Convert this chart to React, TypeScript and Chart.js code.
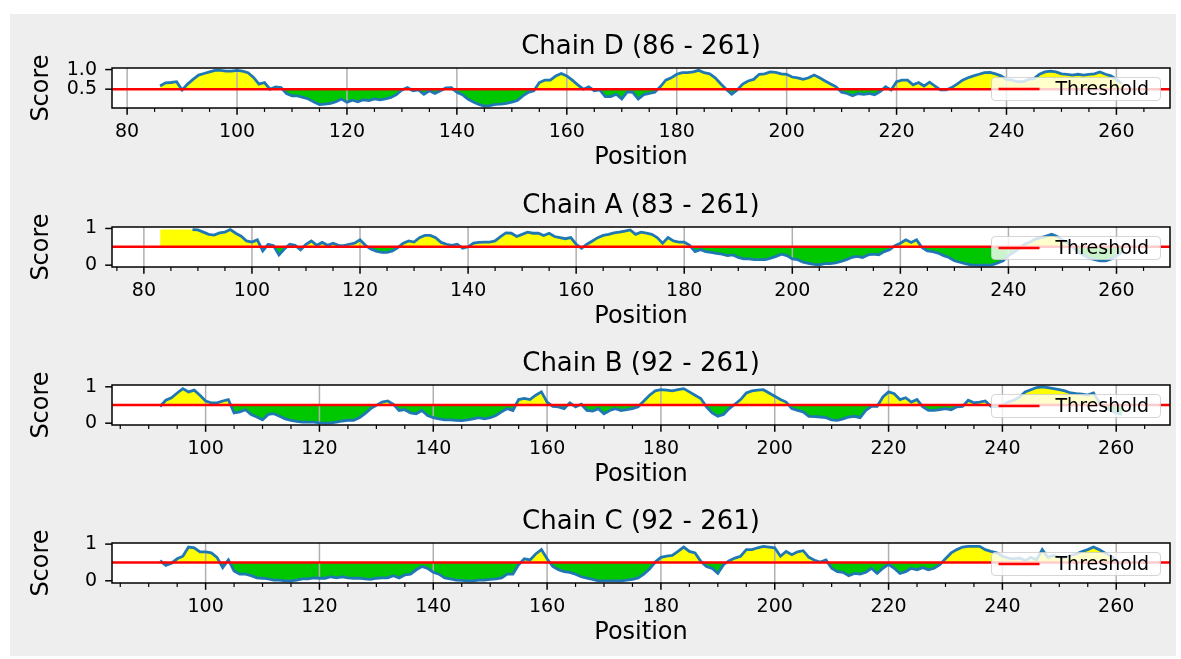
import React, { useEffect, useRef } from "react";
import { Chart, registerables } from "chart.js";

Chart.register(...registerables);

// ---------------- data ----------------
const THRESHOLD = 0.5;
const THRESHOLD_LABEL = "Threshold";

const chainDStart = 86;
const chainDScores = [
  0.58, 0.66, 0.67, 0.69, 0.48, 0.63, 0.75, 0.86, 0.9, 0.94, // 86-95
  0.98, 0.98, 0.96, 0.96, 0.98, 0.96, 0.92, 0.8, 0.63, 0.67, // 96-105
  0.5, 0.56, 0.54, 0.39, 0.33, 0.33, 0.29, 0.25, 0.17, 0.11, // 106-115
  0.12, 0.14, 0.18, 0.25, 0.17, 0.22, 0.18, 0.23, 0.21, 0.25, // 116-125
  0.23, 0.25, 0.29, 0.36, 0.48, 0.54, 0.46, 0.48, 0.37, 0.46, // 126-135
  0.39, 0.46, 0.53, 0.54, 0.42, 0.36, 0.25, 0.17, 0.11, 0.07, // 136-145
  0.08, 0.11, 0.12, 0.14, 0.17, 0.21, 0.33, 0.42, 0.46, 0.67, // 146-155
  0.73, 0.73, 0.84, 0.9, 0.84, 0.73, 0.61, 0.5, 0.56, 0.46, // 156-165
  0.48, 0.31, 0.31, 0.37, 0.25, 0.43, 0.42, 0.25, 0.36, 0.39, // 166-175
  0.42, 0.56, 0.73, 0.79, 0.88, 0.92, 0.92, 0.94, 0.98, 0.92, // 176-185
  0.89, 0.79, 0.64, 0.5, 0.37, 0.48, 0.63, 0.71, 0.75, 0.88, // 186-195
  0.89, 0.94, 0.93, 0.89, 0.88, 0.81, 0.79, 0.75, 0.79, 0.86, // 196-205
  0.79, 0.71, 0.63, 0.56, 0.42, 0.39, 0.33, 0.39, 0.37, 0.39, // 206-215
  0.36, 0.44, 0.56, 0.48, 0.69, 0.73, 0.73, 0.61, 0.67, 0.58, // 216-225
  0.68, 0.58, 0.48, 0.48, 0.54, 0.63, 0.73, 0.79, 0.84, 0.88, // 226-235
  0.92, 0.93, 0.89, 0.84, 0.75, 0.73, 0.69, 0.69, 0.75, 0.77, // 236-245
  0.88, 0.94, 0.96, 0.94, 0.89, 0.88, 0.86, 0.88, 0.86, 0.88, // 246-255
  0.89, 0.94, 0.88, 0.84, 0.75, 0.64, // 256-261
];

const chainAStart = 83;
const chainAScores = [
  0.97, 0.97, 0.97, 0.97, 0.97, 0.97, 0.97, 0.96, 0.9, 0.84, // 83-92
  0.82, 0.88, 0.9, 0.97, 0.87, 0.79, 0.66, 0.63, 0.69, 0.39, // 93-102
  0.57, 0.53, 0.28, 0.44, 0.57, 0.54, 0.42, 0.57, 0.66, 0.54, // 103-112
  0.62, 0.54, 0.6, 0.54, 0.53, 0.57, 0.6, 0.69, 0.54, 0.44, // 113-122
  0.38, 0.35, 0.35, 0.39, 0.48, 0.6, 0.66, 0.63, 0.75, 0.81, // 123-132
  0.81, 0.75, 0.62, 0.57, 0.54, 0.57, 0.46, 0.5, 0.6, 0.62, // 133-142
  0.63, 0.63, 0.66, 0.78, 0.88, 0.87, 0.78, 0.84, 0.9, 0.87, // 143-152
  0.87, 0.81, 0.87, 0.78, 0.75, 0.72, 0.75, 0.57, 0.46, 0.57, // 153-162
  0.66, 0.75, 0.81, 0.84, 0.88, 0.9, 0.93, 0.96, 0.84, 0.9, // 163-172
  0.87, 0.84, 0.75, 0.6, 0.75, 0.66, 0.63, 0.63, 0.54, 0.37, // 173-182
  0.42, 0.37, 0.35, 0.32, 0.3, 0.26, 0.28, 0.21, 0.17, 0.17, // 183-192
  0.15, 0.15, 0.15, 0.19, 0.24, 0.3, 0.26, 0.17, 0.15, 0.08, // 193-202
  0.05, 0.02, 0.01, 0.04, 0.04, 0.06, 0.1, 0.15, 0.21, 0.24, // 203-212
  0.21, 0.28, 0.3, 0.28, 0.37, 0.42, 0.53, 0.6, 0.69, 0.62, // 213-222
  0.69, 0.48, 0.39, 0.37, 0.33, 0.26, 0.21, 0.12, 0.08, 0.04, // 223-232
  0.01, 0.0, 0.0, 0.0, 0.01, 0.06, 0.12, 0.26, 0.35, 0.46, // 233-242
  0.57, 0.63, 0.71, 0.75, 0.79, 0.84, 0.78, 0.69, 0.6, 0.48, // 243-252
  0.35, 0.26, 0.19, 0.15, 0.12, 0.12, 0.17, 0.26, 0.35, // 253-261
];
// the first few chain A points are shaded but carry no drawn line
const chainAUndrawnLead = 6;

const chainBStart = 92;
const chainBScores = [
  0.46, 0.63, 0.7, 0.83, 0.95, 0.86, 0.91, 0.77, 0.61, 0.56, // 92-101
  0.56, 0.61, 0.65, 0.28, 0.31, 0.37, 0.24, 0.17, 0.09, 0.24, // 102-111
  0.26, 0.19, 0.12, 0.08, 0.05, 0.03, 0.03, 0.03, 0.01, 0.0, // 112-121
  0.01, 0.03, 0.06, 0.08, 0.08, 0.15, 0.26, 0.4, 0.49, 0.58, // 122-131
  0.61, 0.52, 0.35, 0.37, 0.28, 0.26, 0.35, 0.21, 0.15, 0.12, // 132-141
  0.09, 0.09, 0.08, 0.07, 0.09, 0.12, 0.15, 0.12, 0.15, 0.21, // 142-151
  0.31, 0.4, 0.35, 0.65, 0.68, 0.65, 0.77, 0.86, 0.58, 0.46, // 152-161
  0.45, 0.4, 0.56, 0.45, 0.52, 0.35, 0.33, 0.4, 0.26, 0.35, // 162-171
  0.4, 0.35, 0.37, 0.4, 0.45, 0.61, 0.77, 0.89, 0.92, 0.91, // 172-181
  0.89, 0.92, 0.95, 0.86, 0.77, 0.68, 0.45, 0.28, 0.19, 0.24, // 182-191
  0.4, 0.52, 0.65, 0.83, 0.89, 0.91, 0.92, 0.83, 0.74, 0.65, // 192-201
  0.58, 0.4, 0.35, 0.31, 0.19, 0.18, 0.17, 0.15, 0.09, 0.08, // 202-211
  0.12, 0.17, 0.19, 0.15, 0.35, 0.46, 0.46, 0.72, 0.86, 0.81, // 212-221
  0.65, 0.7, 0.58, 0.65, 0.45, 0.35, 0.35, 0.37, 0.4, 0.37, // 222-231
  0.45, 0.46, 0.63, 0.56, 0.58, 0.61, 0.46, 0.46, 0.49, 0.58, // 232-241
  0.63, 0.72, 0.86, 0.92, 0.98, 1.0, 0.98, 0.95, 0.92, 0.89, // 242-251
  0.83, 0.81, 0.8, 0.77, 0.83, 0.58, 0.45, 0.35, 0.28, 0.24, // 252-261
];

const chainCStart = 92;
const chainCScores = [
  0.55, 0.42, 0.48, 0.6, 0.67, 0.92, 0.9, 0.79, 0.79, 0.76, // 92-101
  0.64, 0.36, 0.57, 0.27, 0.18, 0.18, 0.14, 0.08, 0.07, 0.05, // 102-111
  0.02, 0.02, 0.0, 0.0, 0.02, 0.05, 0.05, 0.08, 0.07, 0.07, // 112-121
  0.11, 0.08, 0.11, 0.08, 0.07, 0.07, 0.05, 0.04, 0.07, 0.08, // 122-131
  0.08, 0.14, 0.08, 0.16, 0.18, 0.3, 0.39, 0.34, 0.23, 0.18, // 132-141
  0.08, 0.05, 0.02, 0.01, 0.0, 0.0, 0.02, 0.02, 0.04, 0.05, // 142-151
  0.08, 0.18, 0.18, 0.44, 0.6, 0.57, 0.73, 0.85, 0.6, 0.39, // 152-161
  0.3, 0.25, 0.23, 0.18, 0.11, 0.07, 0.04, 0.0, 0.0, 0.0, // 162-171
  0.0, 0.0, 0.02, 0.04, 0.08, 0.18, 0.32, 0.51, 0.64, 0.67, // 172-181
  0.69, 0.8, 0.92, 0.8, 0.76, 0.53, 0.39, 0.34, 0.2, 0.44, // 182-191
  0.55, 0.62, 0.67, 0.85, 0.85, 0.9, 0.94, 0.92, 0.9, 0.67, // 192-201
  0.8, 0.71, 0.79, 0.82, 0.64, 0.56, 0.51, 0.57, 0.34, 0.25, // 202-211
  0.23, 0.14, 0.2, 0.18, 0.23, 0.34, 0.2, 0.34, 0.45, 0.34, // 212-221
  0.2, 0.25, 0.34, 0.3, 0.36, 0.3, 0.34, 0.44, 0.6, 0.76, // 222-231
  0.85, 0.92, 0.94, 0.94, 0.94, 0.85, 0.8, 0.76, 0.67, 0.62, // 232-241
  0.6, 0.62, 0.55, 0.64, 0.57, 0.85, 0.64, 0.69, 0.64, 0.64, // 242-251
  0.69, 0.73, 0.8, 0.85, 0.92, 0.85, 0.76, 0.69, 0.55, 0.45, // 252-261
];

const yTicksD = [0.5, 1.0];
const yTickLabelsD = ["0.5", "1.0"];
const yTicksABC = [0, 1];
const yTickLabelsABC = ["0", "1"];
const X_MAJOR_STEP = 20;
const X_MINOR_STEP = 5;

// ---------------- style / layout ----------------
const FONT = "'DejaVu Sans', sans-serif";
const PAGE_W = 1181;
const AXES_LEFT = 112;
const AXES_RIGHT = 1170;
const AXES_H = 40;
const TITLE_BLOCK = 44;
const X_BLOCK = 72;
const TITLE_SIZE = 26;
const LABEL_SIZE = 24;
const TICK_SIZE = 19;
const LINE_BLUE = "#1f77b4";
const RED = "#ff0000";
const ABOVE_FILL = "#ffff00";
const BELOW_FILL = "#00c800";

type PanelCfg = {
  chain: string;
  start: number;
  scores: number[];
  yMin: number;
  yMax: number;
  yTicks: number[];
  yLabels: string[];
  axesTop: number;
  undrawnLead: number;
};

const panels: PanelCfg[] = [
  { chain: "D", start: chainDStart, scores: chainDScores, yMin: 0.02, yMax: 1.04, yTicks: yTicksD, yLabels: yTickLabelsD, axesTop: 68, undrawnLead: 0 },
  { chain: "A", start: chainAStart, scores: chainAScores, yMin: -0.05, yMax: 1.04, yTicks: yTicksABC, yLabels: yTickLabelsABC, axesTop: 226.5, undrawnLead: chainAUndrawnLead },
  { chain: "B", start: chainBStart, scores: chainBScores, yMin: -0.05, yMax: 1.05, yTicks: yTicksABC, yLabels: yTickLabelsABC, axesTop: 385, undrawnLead: 0 },
  { chain: "C", start: chainCStart, scores: chainCScores, yMin: -0.06, yMax: 1.03, yTicks: yTicksABC, yLabels: yTickLabelsABC, axesTop: 542.5, undrawnLead: 0 },
];

function roundRectPath(ctx: CanvasRenderingContext2D, x: number, y: number, w: number, h: number, r: number) {
  ctx.beginPath();
  ctx.moveTo(x + r, y);
  ctx.lineTo(x + w - r, y);
  ctx.arcTo(x + w, y, x + w, y + r, r);
  ctx.lineTo(x + w, y + h - r);
  ctx.arcTo(x + w, y + h, x + w - r, y + h, r);
  ctx.lineTo(x + r, y + h);
  ctx.arcTo(x, y + h, x, y + h - r, r);
  ctx.lineTo(x, y + r);
  ctx.arcTo(x, y, x + r, y, r);
  ctx.closePath();
}

function decorPlugin(cfg: PanelCfg) {
  return {
    id: "panelDecor",
    beforeDraw(chart: any) {
      const { ctx, chartArea: a } = chart;
      ctx.save();
      ctx.fillStyle = "#ffffff";
      ctx.fillRect(a.left, a.top, a.right - a.left, a.bottom - a.top);
      ctx.restore();
    },
    beforeDatasetDraw(chart: any, args: any) {
      if (args.index !== 1) return;
      const { ctx, chartArea: a } = chart;
      const xs = chart.scales.x;
      ctx.save();
      ctx.strokeStyle = "#b0b0b0";
      ctx.lineWidth = 1.5;
      for (const t of xs.ticks) {
        if (t.value % X_MAJOR_STEP !== 0) continue;
        const px = xs.getPixelForValue(t.value);
        ctx.beginPath();
        ctx.moveTo(px, a.top);
        ctx.lineTo(px, a.bottom);
        ctx.stroke();
      }
      ctx.restore();
    },
    afterDatasetsDraw(chart: any) {
      const { ctx, chartArea: a } = chart;
      const xs = chart.scales.x;
      const ys = chart.scales.y;
      ctx.save();
      ctx.strokeStyle = "#000000";
      for (const t of xs.ticks) {
        const major = t.value % X_MAJOR_STEP === 0;
        const px = xs.getPixelForValue(t.value);
        ctx.lineWidth = major ? 1.5 : 1.2;
        ctx.beginPath();
        ctx.moveTo(px, a.bottom);
        ctx.lineTo(px, a.bottom + (major ? 6.8 : 3.9));
        ctx.stroke();
      }
      for (const v of cfg.yTicks) {
        const py = ys.getPixelForValue(v);
        ctx.lineWidth = 1.5;
        ctx.beginPath();
        ctx.moveTo(a.left, py);
        ctx.lineTo(a.left - 6.8, py);
        ctx.stroke();
      }
      ctx.lineWidth = 1.5;
      ctx.strokeRect(a.left, a.top, a.right - a.left, a.bottom - a.top);
      ctx.restore();
    },
    afterDraw(chart: any) {
      const { ctx, chartArea: a } = chart;
      const w = 169;
      const h = 23;
      const x = a.right - 9.5 - w;
      const y = a.bottom - 7.5 - h;
      ctx.save();
      roundRectPath(ctx, x, y, w, h, 3.5);
      ctx.fillStyle = "rgba(255,255,255,0.8)";
      ctx.fill();
      ctx.strokeStyle = "rgba(204,204,204,0.8)";
      ctx.lineWidth = 1;
      ctx.stroke();
      ctx.strokeStyle = RED;
      ctx.lineWidth = 2.5;
      ctx.beginPath();
      ctx.moveTo(x + 7, y + h / 2);
      ctx.lineTo(x + 48, y + h / 2);
      ctx.stroke();
      ctx.fillStyle = "#000000";
      ctx.font = `${TICK_SIZE}px ${FONT}`;
      ctx.textBaseline = "middle";
      ctx.textAlign = "left";
      ctx.fillText(chart.data.datasets[0].label, x + 64, y + h / 2 + 1);
      ctx.restore();
    },
  };
}

function buildConfig(cfg: PanelCfg): any {
  const end = cfg.start + cfg.scores.length - 1;
  const span = end - cfg.start;
  const xMin = cfg.start - 0.05 * span;
  const xMax = end + 0.05 * span;
  const points = cfg.scores.map((s, i) => ({ x: cfg.start + i, y: s }));
  const lead = cfg.undrawnLead;

  return {
    type: "line",
    data: {
      datasets: [
        {
          label: THRESHOLD_LABEL,
          data: [
            { x: xMin, y: THRESHOLD },
            { x: xMax, y: THRESHOLD },
          ],
          borderColor: RED,
          borderWidth: 2.5,
          pointRadius: 0,
          fill: false,
          order: 0,
        },
        {
          label: "Score",
          data: points,
          borderColor: LINE_BLUE,
          borderWidth: 2.8,
          pointRadius: 0,
          fill: false,
          tension: 0,
          order: 1,
          segment: {
            borderColor: (ctx: any) => (ctx.p0DataIndex < lead ? "rgba(0,0,0,0)" : undefined),
          },
        },
        {
          label: "fill",
          data: points,
          borderColor: "rgba(0,0,0,0)",
          borderWidth: 0,
          pointRadius: 0,
          tension: 0,
          order: 2,
          fill: { target: { value: THRESHOLD }, above: ABOVE_FILL, below: BELOW_FILL },
        },
      ],
    },
    options: {
      animation: false,
      responsive: false,
      devicePixelRatio: 1,
      layout: { padding: { left: 0, right: PAGE_W - AXES_RIGHT, top: 0, bottom: 0 } },
      plugins: {
        legend: { display: false },
        tooltip: { enabled: false },
        title: {
          display: true,
          fullSize: false,
          text: `Chain ${cfg.chain} (${cfg.start} - ${end})`,
          color: "#000000",
          font: { family: FONT, size: TITLE_SIZE, weight: "normal" },
          padding: { top: 7.4, bottom: 5.4 },
        },
      },
      scales: {
        x: {
          type: "linear",
          min: xMin,
          max: xMax,
          afterBuildTicks: (scale: any) => {
            const ticks = [];
            for (let v = Math.ceil(xMin / X_MINOR_STEP) * X_MINOR_STEP; v <= xMax; v += X_MINOR_STEP) ticks.push({ value: v });
            scale.ticks = ticks;
          },
          afterFit: (scale: any) => {
            scale.height = X_BLOCK;
          },
          ticks: {
            autoSkip: false,
            maxRotation: 0,
            minRotation: 0,
            padding: 6,
            color: "#000000",
            font: { family: FONT, size: TICK_SIZE },
            callback: (v: any) => (Number(v) % X_MAJOR_STEP === 0 ? String(v) : ""),
          },
          grid: { drawOnChartArea: false, drawTicks: true, tickLength: 7, tickColor: "rgba(0,0,0,0)", color: "rgba(0,0,0,0)" },
          border: { display: false },
          title: {
            display: true,
            text: "Position",
            color: "#000000",
            font: { family: FONT, size: LABEL_SIZE },
            padding: { top: 0, bottom: 7.6 },
          },
        },
        y: {
          type: "linear",
          min: cfg.yMin,
          max: cfg.yMax,
          afterBuildTicks: (scale: any) => {
            scale.ticks = cfg.yTicks.map((v) => ({ value: v }));
          },
          afterFit: (scale: any) => {
            scale.width = AXES_LEFT;
          },
          ticks: {
            padding: 8,
            color: "#000000",
            font: { family: FONT, size: TICK_SIZE },
            callback: (_v: any, i: number) => cfg.yLabels[i],
          },
          grid: { drawOnChartArea: false, drawTicks: true, tickLength: 7, tickColor: "rgba(0,0,0,0)", color: "rgba(0,0,0,0)" },
          border: { display: false },
          title: {
            display: true,
            text: "Score",
            color: "#000000",
            font: { family: FONT, size: LABEL_SIZE },
            padding: { top: 27.6, bottom: 0 },
          },
        },
      },
    },
    plugins: [decorPlugin(cfg)],
  };
}

function Panel({ cfg }: { cfg: PanelCfg }) {
  const ref = useRef<HTMLCanvasElement>(null);
  const height = TITLE_BLOCK + AXES_H + X_BLOCK;
  useEffect(() => {
    if (!ref.current) return;
    const chart = new Chart(ref.current, buildConfig(cfg));
    return () => chart.destroy();
  }, [cfg]);
  return (
    <canvas
      ref={ref}
      width={PAGE_W}
      height={height}
      style={{ position: "absolute", left: 0, top: cfg.axesTop - TITLE_BLOCK, width: PAGE_W, height }}
    />
  );
}

export default function App() {
  return (
    <div style={{ position: "absolute", left: 0, top: 0, width: PAGE_W, height: 659, background: "#ffffff", overflow: "hidden" }}>
      <div style={{ position: "absolute", left: 10, top: 14, width: 1166, height: 642, background: "#eeeeee" }} />
      {panels.map((p) => (
        <Panel key={p.chain} cfg={p} />
      ))}
    </div>
  );
}
